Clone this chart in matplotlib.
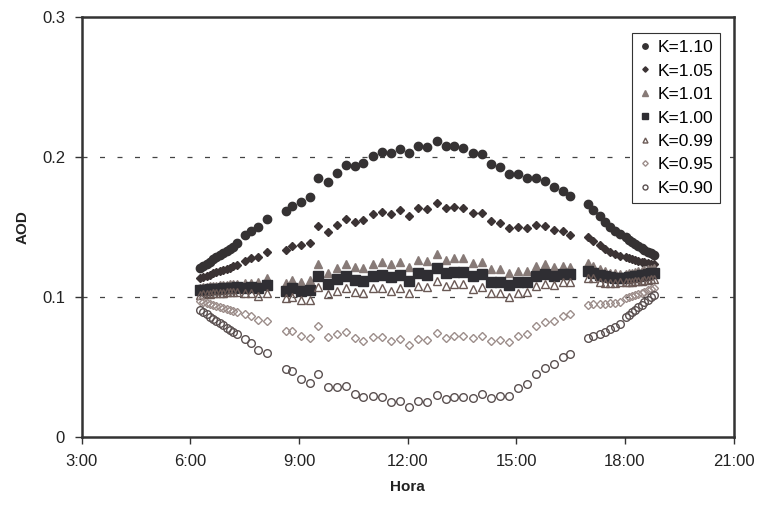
import matplotlib
matplotlib.use("Agg")
import matplotlib.pyplot as plt

plt.rcParams['font.family'] = ['Liberation Sans', 'DejaVu Sans']

# hour of day (decimal hours) of each measurement
hours = [6.27, 6.36, 6.45, 6.54, 6.63, 6.72, 6.82, 6.91, 7.00, 7.09, 7.18, 7.28,
         7.51, 7.67, 7.88, 8.13,
         8.65, 8.80, 9.05, 9.30, 9.53, 9.79, 10.04, 10.29, 10.54, 10.78, 11.04,
         11.30, 11.54, 11.79, 12.05, 12.30, 12.54, 12.80, 13.05, 13.29, 13.54,
         13.80, 14.05, 14.30, 14.55, 14.80, 15.04, 15.29, 15.54, 15.79, 16.05,
         16.28, 16.49,
         16.97, 17.13, 17.30, 17.46, 17.60, 17.73, 17.87,
         18.03, 18.12, 18.20, 18.29, 18.37, 18.46, 18.54, 18.63, 18.71, 18.80]

aod_k110 = [0.121, 0.1225, 0.124, 0.1255, 0.127, 0.1285, 0.130, 0.1315, 0.133, 0.1345, 0.136, 0.1385,
            0.1445, 0.1473, 0.150, 0.156,
            0.1618, 0.1652, 0.168, 0.1714, 0.185, 0.1825, 0.189, 0.1944, 0.1937, 0.1956, 0.2008,
            0.2035, 0.2028, 0.2056, 0.2028, 0.208, 0.2075, 0.2117, 0.208, 0.2082, 0.2067,
            0.2028, 0.202, 0.1951, 0.1928, 0.1878, 0.1878, 0.185, 0.1853, 0.183, 0.1789,
            0.176, 0.1723,
            0.1666, 0.162, 0.158, 0.154, 0.150, 0.1475, 0.145,
            0.143, 0.141, 0.1395, 0.138, 0.1365, 0.135, 0.134, 0.1325, 0.1315, 0.1305]

aod_k105 = [0.1135, 0.1145, 0.1153, 0.116, 0.117, 0.1178, 0.1186, 0.1195, 0.1203, 0.1212, 0.122, 0.123,
            0.1261, 0.1278, 0.129, 0.1326,
            0.1338, 0.1366, 0.1371, 0.139, 0.1509, 0.1468, 0.1516, 0.1559, 0.154, 0.1552, 0.1592,
            0.1611, 0.1592, 0.1623, 0.158, 0.1635, 0.1628, 0.1675, 0.1635, 0.1642, 0.1635,
            0.160, 0.1604, 0.1547, 0.1532, 0.1492, 0.1504, 0.1492, 0.1516, 0.1509, 0.148,
            0.1473, 0.1445,
            0.1433, 0.1405, 0.137, 0.1345, 0.1325, 0.131, 0.1298,
            0.129, 0.1282, 0.1275, 0.1268, 0.126, 0.1255, 0.125, 0.1245, 0.124, 0.1236]

aod_k101 = [0.107, 0.1072, 0.1075, 0.1078, 0.108, 0.1083, 0.1085, 0.1088, 0.109, 0.1092, 0.1095, 0.1098,
            0.1105, 0.110, 0.1112, 0.1136,
            0.1104, 0.1124, 0.1112, 0.1124, 0.1238, 0.1176, 0.1207, 0.1238, 0.1214, 0.1207, 0.124,
            0.1254, 0.1237, 0.1254, 0.1219, 0.1266, 0.1261, 0.1307, 0.1266, 0.1278, 0.1278,
            0.1243, 0.1254, 0.1202, 0.120, 0.1171, 0.119, 0.119, 0.1226, 0.1236, 0.1219,
            0.1224, 0.1219,
            0.1243, 0.1225, 0.120, 0.1185, 0.1175, 0.117, 0.1168,
            0.1168, 0.117, 0.1175, 0.118, 0.1185, 0.119, 0.1195, 0.120, 0.1205, 0.121]

aod_k100 = [0.105, 0.1052, 0.1054, 0.1056, 0.1058, 0.106, 0.1062, 0.1064, 0.1066, 0.1068, 0.107, 0.1072,
            0.1064, 0.1076, 0.1064, 0.1088,
            0.1048, 0.1064, 0.1048, 0.1052, 0.1152, 0.1095, 0.1129, 0.1152, 0.1124, 0.1119, 0.1154,
            0.1162, 0.1143, 0.1159, 0.1119, 0.1171, 0.1159, 0.1211, 0.1176, 0.1183, 0.1183,
            0.1154, 0.1164, 0.1112, 0.1112, 0.1088, 0.1112, 0.1112, 0.1154, 0.1166, 0.1154,
            0.1166, 0.1166,
            0.119, 0.1171, 0.116, 0.115, 0.1143, 0.114, 0.1138,
            0.114, 0.1143, 0.1146, 0.115, 0.1154, 0.1158, 0.1162, 0.1166, 0.117, 0.1175]

aod_k099 = [0.1020, 0.1022, 0.1024, 0.1026, 0.1028, 0.1030, 0.1032, 0.1034, 0.1035, 0.1036, 0.1037, 0.1038,
            0.1029, 0.1029, 0.101, 0.1033,
            0.0993, 0.1005, 0.0981, 0.0981, 0.1076, 0.1024, 0.1048, 0.1069, 0.1036, 0.1029, 0.1066,
            0.1069, 0.1046, 0.1069, 0.1029, 0.1081, 0.1072, 0.1117, 0.1083, 0.1093, 0.1093,
            0.1059, 0.1076, 0.1029, 0.1029, 0.1005, 0.1033, 0.104, 0.1083, 0.1095, 0.1088,
            0.1107, 0.1107,
            0.114, 0.1136, 0.111, 0.1102, 0.1102, 0.1104, 0.1106,
            0.1108, 0.111, 0.1112, 0.1115, 0.1118, 0.112, 0.1123, 0.1126, 0.113, 0.1133]

aod_k095 = [0.0976, 0.0968, 0.096, 0.0953, 0.0945, 0.0938, 0.093, 0.0922, 0.0915, 0.0908, 0.090, 0.0893,
            0.0881, 0.0867, 0.0838, 0.0833,
            0.0762, 0.0762, 0.0724, 0.0708, 0.0795, 0.0719, 0.0738, 0.075, 0.0708, 0.069, 0.0715,
            0.0715, 0.0688, 0.070, 0.066, 0.0703, 0.0696, 0.0743, 0.0712, 0.0724, 0.0726,
            0.0708, 0.0726, 0.0688, 0.0696, 0.0679, 0.0724, 0.0738, 0.0795, 0.0826, 0.0833,
            0.0867, 0.0879,
            0.0945, 0.095, 0.095, 0.0952, 0.0957, 0.0962, 0.0969,
            0.0993, 0.1001, 0.1009, 0.1017, 0.1025, 0.1033, 0.1041, 0.1049, 0.1057, 0.1064]

aod_k090 = [0.091, 0.0894, 0.0878, 0.0862, 0.0847, 0.0831, 0.0815, 0.080, 0.0784, 0.0769, 0.0753, 0.0738,
            0.070, 0.0672, 0.0624, 0.0601,
            0.0487, 0.0477, 0.0417, 0.0387, 0.0453, 0.0362, 0.0362, 0.0367, 0.031, 0.0287, 0.0296,
            0.0291, 0.0255, 0.0263, 0.0215, 0.0263, 0.0251, 0.0301, 0.0273, 0.0287, 0.0291,
            0.028, 0.0308, 0.028, 0.0298, 0.0296, 0.0351, 0.0382, 0.0451, 0.0498, 0.0524,
            0.0572, 0.0596,
            0.0708, 0.0724, 0.0738, 0.0755, 0.0772, 0.079, 0.081,
            0.0858, 0.0876, 0.0894, 0.0912, 0.093, 0.0948, 0.0966, 0.0984, 0.1001, 0.1017]

labels = ['K=1.10', 'K=1.05', 'K=1.01', 'K=1.00', 'K=0.99', 'K=0.95', 'K=0.90']
x_ticks = [3, 6, 9, 12, 15, 18, 21]
x_ticklabels = ['3:00', '6:00', '9:00', '12:00', '15:00', '18:00', '21:00']
y_ticks = [0, 0.1, 0.2, 0.3]
y_ticklabels = ['0', '0.1', '0.2', '0.3']

# marker, size, face, edge for each series
styles = [
    ('o', 6.0, '#353233', '#353233'),
    ('D', 4.2, '#3b3334', '#3b3334'),
    ('^', 6.0, '#877a77', '#877a77'),
    ('s', 6.5, '#2f2e33', '#2f2e33'),
    ('^', 5.5, 'none', '#6a5955'),
    ('D', 4.3, 'none', '#9c8d8a'),
    ('o', 5.5, 'none', '#5a5050'),
]
series = [aod_k110, aod_k105, aod_k101, aod_k100, aod_k099, aod_k095, aod_k090]

fig = plt.figure(figsize=(7.58, 5.07), dpi=100)
ax = fig.add_axes([0.1078, 0.1371, 0.8599, 0.8294])

for y in [0.1, 0.2]:
    ax.axhline(y, color='#444444', linewidth=0.9, dashes=(4, 10), zorder=0)

for vals, lab, (mk, ms, fc, ec) in zip(series, labels, styles):
    ax.plot(hours, vals, linestyle='none', marker=mk, markersize=ms,
            markerfacecolor=fc, markeredgecolor=ec, markeredgewidth=1.0, label=lab)

ax.set_xlim(3, 21)
ax.set_ylim(0, 0.3)
ax.set_xticks(x_ticks)
ax.set_xticklabels(x_ticklabels)
ax.set_yticks(y_ticks)
ax.set_yticklabels(y_ticklabels)
ax.tick_params(direction='out', length=5, width=1, colors='#333333',
               labelsize=12, labelcolor='#222222')
ax.tick_params(axis='x', pad=7)
ax.tick_params(axis='y', pad=7)
for sp in ax.spines.values():
    sp.set_linewidth(1.8)
    sp.set_color('#333333')

ax.set_xlabel('Hora', fontsize=11, fontweight='bold', color='#222222')
ax.set_ylabel('AOD', fontsize=11, fontweight='bold', color='#222222')
ax.xaxis.set_label_coords(0.5, -0.101)
ax.yaxis.set_label_coords(-0.0793, 0.5)

leg = ax.legend(loc='upper right', bbox_to_anchor=(0.9793, 0.962), borderaxespad=0,
                fontsize=12.5, markerscale=0.65, handlelength=0.7, handletextpad=0.35,
                labelspacing=0.48, borderpad=0.4, fancybox=False, framealpha=1)
leg.get_frame().set_edgecolor('#333333')
leg.get_frame().set_linewidth(0.8)

fig.savefig('out.png', dpi=100, facecolor='white')
